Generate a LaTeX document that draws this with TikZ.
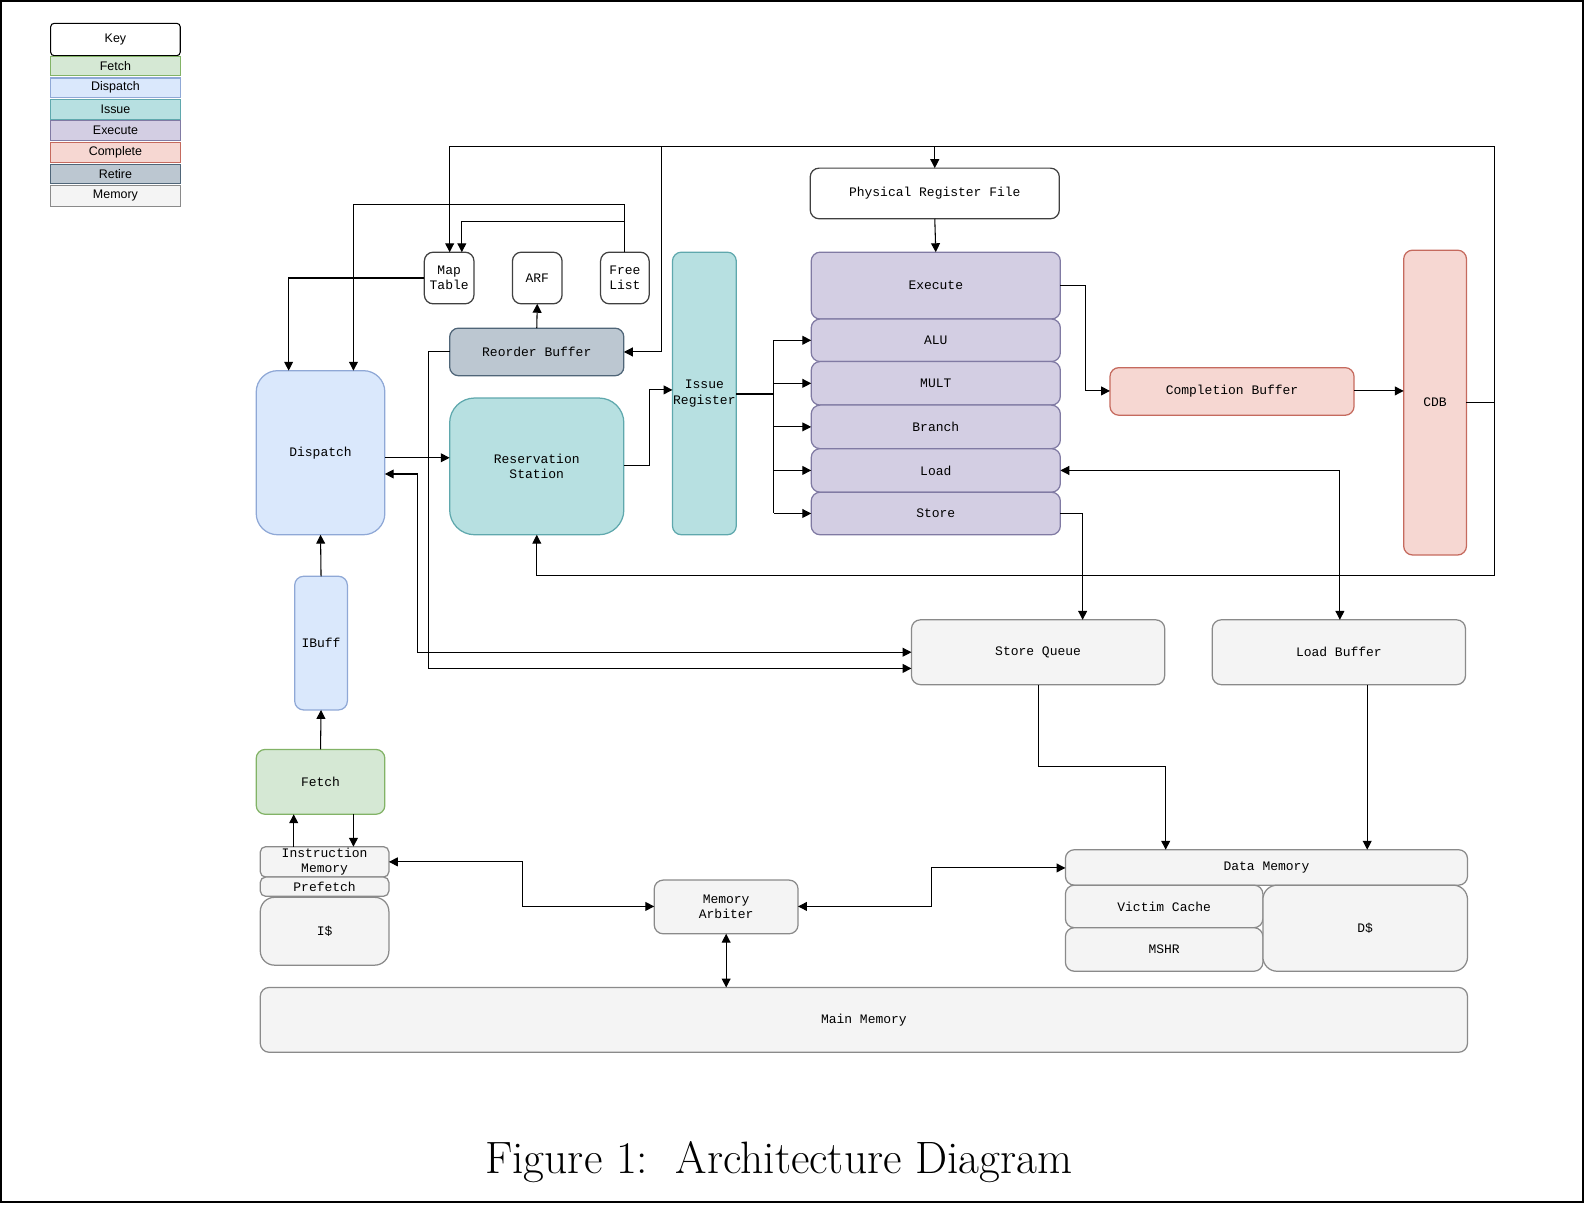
\documentclass[tikz,border=0pt]{standalone}
\usepackage{fontspec}
\newfontfamily\mono{Liberation Mono}
\newfontfamily\sans{Liberation Sans}
\usetikzlibrary{arrows.meta}
\definecolor{fetF}{HTML}{D5E8D4}\definecolor{fetD}{HTML}{82B366}
\definecolor{disF}{HTML}{DAE8FC}\definecolor{disD}{HTML}{8FA8D6}
\definecolor{issF}{HTML}{B7E0E1}\definecolor{issD}{HTML}{5FA8AD}
\definecolor{exeF}{HTML}{D3CEE3}\definecolor{exeD}{HTML}{807AA3}
\definecolor{comF}{HTML}{F6D7D2}\definecolor{comD}{HTML}{C56A5E}
\definecolor{retF}{HTML}{BCC7D1}\definecolor{retD}{HTML}{4F6578}
\definecolor{memF}{HTML}{F4F4F4}\definecolor{memD}{HTML}{8A8A8A}
\tikzset{
 x=0.02cm,y=-0.02cm,
 base/.style={draw,rounded corners=5pt,inner sep=0pt,outer sep=0pt,align=center,font=\mono\fontsize{7.3}{8.6}\selectfont,line width=0.7pt},
 plain/.style={base,fill=white,draw=black!75},
 fet/.style={base,fill=fetF,draw=fetD},
 dis/.style={base,fill=disF,draw=disD,rounded corners=12pt},
 iss/.style={base,fill=issF,draw=issD},
 exe/.style={base,fill=exeF,draw=exeD},
 com/.style={base,fill=comF,draw=comD},
 ret/.style={base,fill=retF,draw=retD},
 mem/.style={base,fill=memF,draw=memD},
 key/.style={draw,inner sep=0pt,outer sep=0pt,font=\sans\fontsize{7}{8}\selectfont,line width=0.6pt},
 ar/.style={-{Triangle[length=5pt,width=5pt]},line width=0.6pt},
 dar/.style={{Triangle[length=5pt,width=5pt]}-{Triangle[length=5pt,width=5pt]},line width=0.6pt},
 ln/.style={line width=0.6pt}
}
\newcommand\bx[7]{\node[#6,minimum width={(#4-#2)*0.02cm},minimum height={(#5-#3)*0.02cm}] (#1) at ({(#2+#4)/2},{(#3+#5)/2}) {#7};}
\begin{document}
\begin{tikzpicture}
\useasboundingbox (0,0) rectangle (1568,1191);
\draw[line width=1pt] (1,1) rectangle (1563,1187);
% key
\bx{kkey}{50}{23}{178}{55}{key,fill=white,rounded corners=2pt}{Key}
\bx{kfet}{50}{56}{178}{75}{key,fill=fetF,draw=fetD}{Fetch}
\bx{kdis}{50}{77}{178}{96}{key,fill=disF,draw=disD}{Dispatch}
\bx{kiss}{50}{98}{178}{118}{key,fill=issF,draw=issD}{Issue}
\bx{kexe}{50}{119}{178}{139}{key,fill=exeF,draw=exeD}{Execute}
\bx{kcom}{50}{141}{178}{160}{key,fill=comF,draw=comD}{Complete}
\bx{kret}{50}{162}{178}{181}{key,fill=retF,draw=retD}{Retire}
\bx{kmem}{50}{183}{178}{204}{key,fill=memF,draw=memD}{Memory}
% boxes
\bx{prf}{800}{166}{1046}{216}{plain}{Physical Register File}
\bx{exe}{801}{249}{1047}{315}{exe}{Execute}
\bx{alu}{801}{315}{1047}{357}{exe}{ALU}
\bx{mult}{801}{357}{1047}{400}{exe}{MULT}
\bx{br}{801}{400}{1047}{443}{exe}{Branch}
\bx{load}{801}{443}{1047}{486}{exe}{Load}
\bx{store}{801}{486}{1047}{528}{exe}{Store}
\bx{map}{419}{249}{468}{300}{plain}{Map\\Table}
\bx{arf}{506}{249}{555}{300}{plain}{ARF}
\bx{free}{593}{249}{641}{300}{plain}{Free\\List}
\bx{rob}{444}{324}{616}{371}{ret}{Reorder Buffer}
\bx{disp}{253}{366}{380}{528}{dis}{Dispatch}
\bx{rs}{444}{393}{616}{528}{iss,rounded corners=14pt}{Reservation\\Station}
\bx{ir}{664}{249}{727}{528}{iss}{Issue\\Register}
\bx{cb}{1096}{363}{1337}{410}{com}{Completion Buffer}
\bx{cdb}{1386}{247}{1448}{548}{com}{CDB}
\bx{sq}{900}{612}{1150}{676}{mem}{Store Queue}
\bx{lb}{1197}{612}{1447}{676}{mem}{Load Buffer}
\bx{ibuff}{291}{569}{343}{701}{dis,rounded corners=5pt}{IBuff}
\bx{fetch}{253}{740}{380}{804}{fet}{Fetch}
\bx{imem}{257}{836}{384}{866}{mem,rounded corners=3pt}{Instruction\\Memory}
\bx{pref}{257}{866}{384}{885}{mem,rounded corners=3pt}{Prefetch}
\bx{icache}{257}{886}{384}{953}{mem,rounded corners=8pt}{I\$}
\bx{arb}{646}{869}{788}{922}{mem}{Memory\\Arbiter}
\bx{dmem}{1052}{839}{1449}{874}{mem}{Data Memory}
\bx{victim}{1052}{874}{1247}{916}{mem}{Victim Cache}
\bx{mshr}{1052}{916}{1247}{959}{mem}{MSHR}
\bx{dcache}{1247}{874}{1449}{959}{mem,rounded corners=8pt}{D\$}
\bx{mm}{257}{975}{1449}{1039}{mem}{Main Memory}
\node[font=\fontsize{25.5}{30}\selectfont] (cap) at (769,1147) {Figure 1:\ \ Architecture Diagram};
% connectors
\coordinate (c1) at (1476,397);
\draw[ar] (cdb.east |- c1) -- (c1) |- (1476,145) -| (444,249);
\draw[ar] (923,145) -- (prf.north);
\draw[ar] (653,145) |- (rob.east);
\draw[ar] (c1) |- (530,568) -- (rs.south);
\draw[ar] (free.north) |- (456,219) -- (456,249);
\draw[ln] (617,219) -- (617,202);
\draw[ar] (617,202) -| (349,366);
\draw[ar] (map.west) -| (285,366);
\draw[ar] (rob.north) -- (arf.south);
\draw[ar] (rob.west) -| (423,660) -- (sq.west |- 0,660);
\draw[dar] (disp.east |- 0,468) -| (412,644) -- (sq.west |- 0,644);
\draw[ar] (disp.east |- 0,452) -- (rs.west |- 0,452);
\draw[ar] (rs.east |- 0,460) -| (641,385) -- (ir.west |- 0,385);
\draw[ln] (ir.east |- 0,389) -- (764,389);
\draw[ln] (764,336) -- (764,507);
\foreach \n in {alu,mult,br,load,store} \draw[ar] (\n.west -| 764,0) -- (\n.west);
\draw[ar] (prf.south) -- (exe.north);
\draw[ar] (exe.east |- 0,282) -| (1072,386) -- (cb.west |- 0,386);
\draw[ar] (cb.east |- 0,386) -- (cdb.west |- 0,386);
\draw[dar] (load.east) -| (1323,612);
\draw[ar] (store.east) -| (1069,612);
\draw[ar] (sq.south) |- (1151,757) -- (1151,839);
\draw[ar] (1350,676) -- (1350,839);
\draw[ar] (ibuff.north) -- (disp.south);
\draw[ar] (fetch.north) -- (ibuff.south);
\draw[ar] (290,836) -- (290,804);
\draw[ar] (349,804) -- (349,836);
\draw[dar] (imem.east |- 0,851) -| (516,895) -- (arb.west |- 0,895);
\draw[dar] (arb.east |- 0,895) -| (920,857) -- (dmem.west |- 0,857);
\draw[dar] (arb.south -| 717,0) -- (717,975);
\end{tikzpicture}
\end{document}
